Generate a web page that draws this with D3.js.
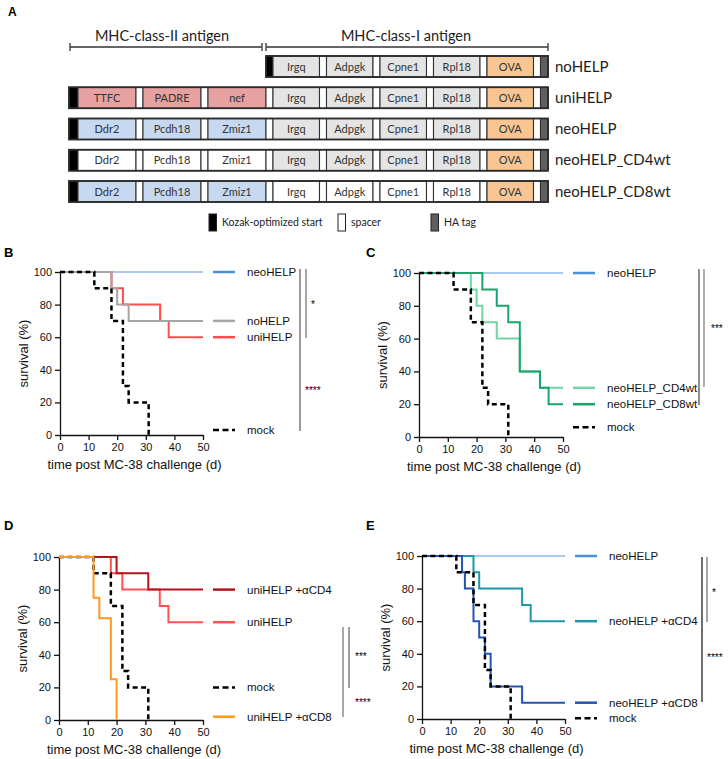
<!DOCTYPE html>
<html><head><meta charset="utf-8">
<script src="https://cdn.jsdelivr.net/npm/d3@7"></script>
<style>body{margin:0;background:#fff}svg{display:block}</style>
</head><body><svg id="fig" width="728" height="759"></svg>
<script>
// ---------------- Panel A data ----------------
const constructNames = ["noHELP","uniHELP","neoHELP","neoHELP_CD4wt","neoHELP_CD8wt"];
const class2Labels = [[], ["TTFC","PADRE","nef"], ["Ddr2","Pcdh18","Zmiz1"], ["Ddr2","Pcdh18","Zmiz1"], ["Ddr2","Pcdh18","Zmiz1"]];
const class2Kind = ["none","universal","neo","wt","neo"];
const class1Labels = ["Irgq","Adpgk","Cpne1","Rpl18","OVA"];
const class1Kind = ["neo","neo","neo","neo","wt"];
const bracketLabels = ["MHC-class-II antigen","MHC-class-I antigen"];
const legendALabels = ["Kozak-optimized start","spacer","HA tag"];

// ---------------- Survival data (days, % survival after each event) ----------------
const xTicks = [0,10,20,30,40,50];
const yTicks = [0,20,40,60,80,100];
const mockT = [12,18,22,24,31],            mockS = [90,70,30,20,0];
// B
const bNeoT = [],                           bNeoS = [];
const bUniT = [18,22,35,38],                bUniS = [90,80,70,60];
const bNoT  = [18,20,24],                   bNoS  = [90,80,70];
// C
const cNeoT = [],                           cNeoS = [];
const cCD4T = [18,20,22,27,35,42],          cCD4S = [90,80,70,60,40,30];
const cCD8T = [22,27,31,35,42,45],          cCD8S = [90,80,70,40,30,20];
// D
const dUniT = [18,22,35,38],                dUniS = [90,80,70,60];
const dA4T  = [20,31],                      dA4S  = [90,80];
const dA8T  = [12,14,18,20],                dA8S  = [75,62.5,25,0];
// E
const eNeoT = [],                           eNeoS = [];
const eA4T  = [18,20,35,38],                eA4S  = [90,80,70,60];
const eA8T  = [14,15,18,20,22,24,35],       eA8S  = [90,80,60,50,40,20,10];

const svg = d3.select("#fig");
const FA = "Lato, 'Open Sans', sans-serif";
const FC = "'Liberation Sans', Arial, sans-serif";

// ---------------- Panel A ----------------
svg.append("text").attr("x",8).attr("y",16).attr("font-family",FC).attr("font-weight","bold").attr("font-size",12).text("A");

const fills = {kozak:"#000", universal:"#e6a1a0", neo:"#c6d9f1", wt:"#ffffff", ova:"#f9c693", ha:"#5f5f5f", spacer:"#fff", mut:"#e4e4e4"};
const rowY = d3.scalePoint().domain(constructNames).range([56,181]);
const rowH = 21;
const W = {kozak:9, ii:58, i:46.5, sp:7, ha:7.5};
const xA = d3.scaleLinear().domain([0,1]).range([69,70]); // 1 unit = 1 px, origin at 69

// brackets
const brY = 47;
const brackets = [[70,262],[266,548]];
brackets.forEach((b,i)=>{
  const g = svg.append("g").attr("stroke","#333").attr("stroke-width",1.3);
  g.append("line").attr("x1",b[0]).attr("x2",b[1]).attr("y1",brY).attr("y2",brY);
  g.append("line").attr("x1",b[0]).attr("x2",b[0]).attr("y1",brY-4).attr("y2",brY+4);
  g.append("line").attr("x1",b[1]).attr("x2",b[1]).attr("y1",brY-4).attr("y2",brY+4);
  svg.append("text").attr("x",i===0?162:406).attr("y",41).attr("text-anchor","middle")
    .attr("font-family",FA).attr("font-size",14.5).attr("fill","#222").text(bracketLabels[i]);
});

constructNames.forEach((name,r)=>{
  const top = rowY(name);
  const segs = [];
  let u = 0;
  if (class2Labels[r].length) {
    segs.push({u0:0,u1:W.kozak,fill:fills.kozak});
    u = W.kozak;
    class2Labels[r].forEach(lab=>{
      segs.push({u0:u,u1:u+W.ii,fill:fills[class2Kind[r]],label:lab});
      segs.push({u0:u+W.ii,u1:u+W.ii+W.sp,fill:fills.spacer});
      u += W.ii+W.sp;
    });
  } else {
    u = W.kozak + 3*(W.ii+W.sp);
    segs.push({u0:u-W.sp,u1:u,fill:fills.kozak});
  }
  const start = segs[0].u0;
  class1Labels.forEach(lab=>{
    const f = lab==="OVA" ? fills.ova : fills[class1Kind[r]==="wt"?"wt":"mut"];
    segs.push({u0:u,u1:u+W.i,fill:f,label:lab});
    segs.push({u0:u+W.i,u1:u+W.i+W.sp,fill:fills.spacer});
    u += W.i+W.sp;
  });
  segs.push({u0:u,u1:u+W.ha,fill:fills.ha});
  u += W.ha;
  const g = svg.append("g");
  g.selectAll("rect").data(segs).join("rect")
    .attr("x",d=>xA(d.u0)).attr("width",d=>xA(d.u1)-xA(d.u0))
    .attr("y",top).attr("height",rowH)
    .attr("fill",d=>d.fill).attr("stroke","#333").attr("stroke-width",1.1);
  g.append("rect").attr("x",xA(start)).attr("width",xA(u)-xA(start)).attr("y",top).attr("height",rowH)
    .attr("fill","none").attr("stroke","#2a2a2a").attr("stroke-width",1.8);
  g.selectAll("text").data(segs.filter(d=>d.label)).join("text")
    .attr("x",d=>(xA(d.u0)+xA(d.u1))/2).attr("y",top+rowH/2+4)
    .attr("text-anchor","middle").attr("font-family",FA).attr("font-size",11).attr("fill","#333")
    .text(d=>d.label);
  svg.append("text").attr("x",555).attr("y",top+rowH/2+5).attr("font-family",FA).attr("font-size",15)
    .attr("fill","#222").text(name);
});

// legend of A
const legA = [{x:209,fill:fills.kozak},{x:338,fill:"#fff"},{x:431,fill:fills.ha}];
legA.forEach((d,i)=>{
  svg.append("rect").attr("x",d.x).attr("y",214).attr("width",7.5).attr("height",17)
    .attr("fill",d.fill).attr("stroke","#222").attr("stroke-width",1);
  svg.append("text").attr("x",d.x+13).attr("y",226).attr("font-family",FA).attr("font-size",10.5)
    .attr("fill","#222").text(legendALabels[i]);
});

// ---------------- survival panels ----------------
function steps(T,S){
  const pts=[[0,100]];
  T.forEach((t,i)=>pts.push([t,S[i]]));
  const last = S.length?S[S.length-1]:100;
  if (last>0) pts.push([50,last]);
  return pts;
}
function panel(cfg){
  const x = d3.scaleLinear().domain([0,50]).range([cfg.x0,cfg.x1]);
  const y = d3.scaleLinear().domain([0,100]).range([cfg.yb,cfg.yt]);
  const g = svg.append("g");
  g.append("text").attr("x",cfg.lx).attr("y",cfg.ly).attr("font-family",FC).attr("font-weight","bold")
    .attr("font-size",13).text(cfg.letter);
  const ax = g.append("g").attr("transform",`translate(0,${cfg.yb})`)
    .call(d3.axisBottom(x).tickValues(xTicks).tickSize(5).tickPadding(3).tickSizeOuter(0));
  const ay = g.append("g").attr("transform",`translate(${cfg.x0},0)`)
    .call(d3.axisLeft(y).tickValues(yTicks).tickSize(5).tickPadding(3).tickSizeOuter(0));
  [ax,ay].forEach(a=>{
    a.selectAll("path,line").attr("stroke","#111").attr("stroke-width",1.3);
    a.selectAll("text").attr("font-family",FC).attr("font-size",11).attr("fill","#111");
  });
  g.append("text").attr("transform",`translate(${cfg.x0-32},${(cfg.yt+cfg.yb)/2}) rotate(-90)`)
    .attr("text-anchor","middle").attr("font-family",FC).attr("font-size",13).attr("fill","#111").text("survival (%)");
  g.append("text").attr("x",(cfg.x0+cfg.x1)/2+3).attr("y",cfg.yb+34).attr("text-anchor","middle")
    .attr("font-family",FC).attr("font-size",13).attr("fill","#111").text("time post MC-38 challenge (d)");
  const line = d3.line().x(d=>x(d[0])).y(d=>y(d[1])).curve(d3.curveStepAfter);
  cfg.series.forEach(s=>{
    g.append("path").attr("d",line(steps(s.T,s.S))).attr("fill","none")
      .attr("stroke",s.color).attr("stroke-width",s.w||2)
      .attr("stroke-dasharray",s.dash||null);
  });
  cfg.series.forEach(s=>{
    const ly = y(s.leg);
    g.append("line").attr("x1",cfg.x1+10).attr("x2",cfg.x1+32).attr("y1",ly).attr("y2",ly)
      .attr("stroke",s.legColor||s.color).attr("stroke-width",2.5)
      .attr("stroke-dasharray",s.dash?"6,3.5":null);
    g.append("text").attr("x",cfg.x1+44).attr("y",ly+4).attr("font-family",FC).attr("font-size",11.5)
      .attr("fill","#111").text(s.name);
  });
  cfg.bars.forEach(b=>{
    g.append("line").attr("x1",b.x).attr("x2",b.x).attr("y1",b.y1).attr("y2",b.y2)
      .attr("stroke",b.c).attr("stroke-width",1.3);
  });
  cfg.stars.forEach(s=>{
    g.append("text").attr("x",s.x).attr("y",s.y+5.5).attr("font-family",FC).attr("font-size",10)
      .attr("fill","#000").text(s.t);
  });
}
const mockStyle = {color:"#000", w:2.5, dash:"5,3.5"};
const neoBlue = "#8cb8e8", neoBlueLeg = "#4a8fd8";

panel({letter:"B", lx:4, ly:257, x0:60, x1:203, yt:272, yb:435,
  series:[
    {name:"neoHELP", T:bNeoT, S:bNeoS, color:neoBlue, legColor:neoBlueLeg, w:1.3, leg:100},
    {name:"uniHELP", T:bUniT, S:bUniS, color:"#ff4d4d", leg:60},
    {name:"noHELP",  T:bNoT,  S:bNoS,  color:"#a5a5a5", leg:70},
    Object.assign({name:"mock", T:mockT, S:mockS, leg:3}, mockStyle)
  ],
  bars:[{x:300,y1:269,y2:431,c:"#6e6262"},{x:306,y1:269,y2:338,c:"#7d7676"}],
  stars:[{x:311,y:302,t:"*"},{x:305,y:388,t:"****"}]
});
panel({letter:"C", lx:366, ly:257, x0:419, x1:563, yt:273, yb:437,
  series:[
    {name:"neoHELP", T:cNeoT, S:cNeoS, color:neoBlue, legColor:neoBlueLeg, w:1.3, leg:100},
    {name:"neoHELP_CD4wt", T:cCD4T, S:cCD4S, color:"#74d3a3", leg:30},
    {name:"neoHELP_CD8wt", T:cCD8T, S:cCD8S, color:"#17a56b", leg:20},
    Object.assign({name:"mock", T:mockT, S:mockS, leg:6}, mockStyle)
  ],
  bars:[{x:699,y1:269,y2:405,c:"#5d5050"},{x:704,y1:269,y2:387,c:"#8a8080"}],
  stars:[{x:711,y:326,t:"***"}]
});
panel({letter:"D", lx:4, ly:530, x0:59, x1:203, yt:557, yb:720,
  series:[
    {name:"uniHELP", T:dUniT, S:dUniS, color:"#ff5252", leg:60},
    {name:"uniHELP +\u03b1CD4", T:dA4T, S:dA4S, color:"#b3141c", leg:80},
    Object.assign({name:"mock", T:mockT, S:mockS, leg:20}, mockStyle),
    {name:"uniHELP +\u03b1CD8", T:dA8T, S:dA8S, color:"#ff9a1a", leg:2}
  ],
  bars:[{x:343,y1:627,y2:717,c:"#7a7a7a"},{x:349,y1:627,y2:688,c:"#6a6a6a"}],
  stars:[{x:355,y:654,t:"***"},{x:355,y:700,t:"****"}]
});
panel({letter:"E", lx:366, ly:530, x0:422, x1:565, yt:556, yb:719,
  series:[
    {name:"neoHELP", T:eNeoT, S:eNeoS, color:neoBlue, legColor:neoBlueLeg, w:1.3, leg:100},
    {name:"neoHELP +\u03b1CD4", T:eA4T, S:eA4S, color:"#1f97a8", leg:60},
    {name:"neoHELP +\u03b1CD8", T:eA8T, S:eA8S, color:"#2453b8", leg:10},
    Object.assign({name:"mock", T:mockT, S:mockS, leg:0.5}, mockStyle)
  ],
  bars:[{x:702,y1:557,y2:702,c:"#222"},{x:707,y1:557,y2:622,c:"#777"}],
  stars:[{x:712,y:590,t:"*"},{x:707,y:655,t:"****"}]
});
</script></body></html>
